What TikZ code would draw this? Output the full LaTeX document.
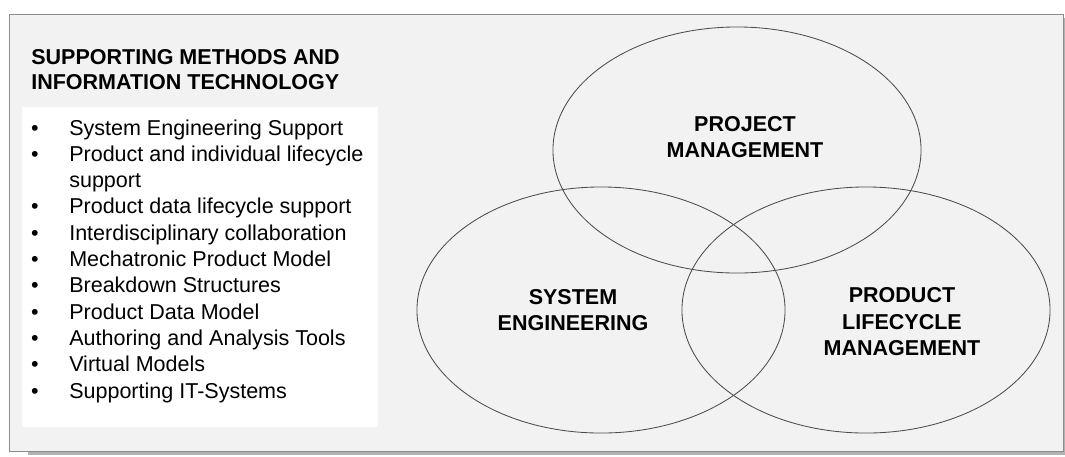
\documentclass[tikz,border=0pt]{standalone}
\usepackage{fontspec}
\setmainfont{Liberation Sans}
\usetikzlibrary{positioning}

\tikzset{
  item/.style={anchor=base west, inner sep=0pt, font=\fontsize{15.3}{18.5}\selectfont},
  dot/.style={anchor=base, inner sep=0pt, font=\fontsize{15.3}{18.5}\selectfont},
  head/.style={anchor=base west, inner sep=0pt, font=\bfseries\fontsize{15.3}{18.5}\selectfont},
  circ/.style={draw=black!70, line width=0.6pt},
  lbl/.style={align=center, inner sep=0pt, font=\bfseries\fontsize{15.3}{18.8}\selectfont},
}

\begin{document}
\begin{tikzpicture}[x=0.025cm, y=-0.025cm]
  \useasboundingbox (0,0) rectangle (1065,456);
  % frame and its shadow
  \fill[black!30] (28,18) rectangle (1065,455);
  \draw[black!45, fill=black!5] (9,14) rectangle (1063,451);
  \fill[white] (22,107) rectangle (378,427);

  \node[head] (head1) at (31,64) {SUPPORTING METHODS AND};
  \node[head] (head2) at (31,89) {INFORMATION TECHNOLOGY};

  % bullet list
  \foreach \y/\t [count=\i] in {135/System Engineering Support,
      161.3/Product and individual lifecycle,
      213.9/Product data lifecycle support,
      240.2/Interdisciplinary collaboration,
      266.5/Mechatronic Product Model,
      292.8/Breakdown Structures,
      319.1/Product Data Model,
      345.4/Authoring and Analysis Tools,
      371.7/Virtual Models,
      398/Supporting IT-Systems} {
    \node[dot] (b\i) at (35,\y) {\textbullet};
    \node[item] (it\i) at (69,\y) {\t};
  }
  \node[item] (it2b) at (69,187.6) {support};

  % the three areas
  \coordinate (pm) at (737,150);
  \coordinate (se) at (601,310);
  \coordinate (plm) at (866,310);
  \draw[circ] (pm) ellipse (4.6cm and 3.075cm);
  \draw[circ] (se) ellipse (4.6cm and 3.075cm);
  \draw[circ] (plm) ellipse (4.6cm and 3.075cm);

  \node[lbl] (pmtext) at (745,137) {PROJECT\\MANAGEMENT};
  \node[lbl] (setext) at (573,310) {SYSTEM\\ENGINEERING};
  \node[lbl] (plmtext) at (902,322) {PRODUCT\\LIFECYCLE\\MANAGEMENT};
\end{tikzpicture}
\end{document}
